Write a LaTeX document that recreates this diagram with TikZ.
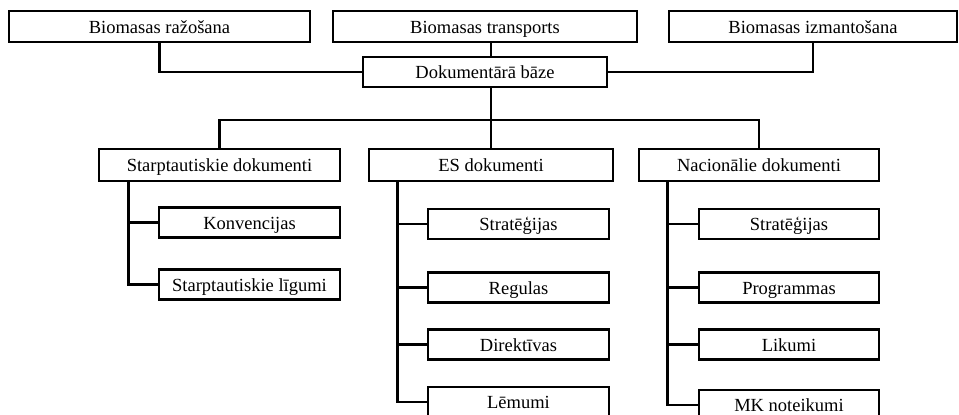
\documentclass[tikz,border=0pt]{standalone}
\usepackage{fontspec}
\setmainfont{Liberation Serif}
\usepackage{tikz}
\usetikzlibrary{calc,positioning}

\begin{document}
\begin{tikzpicture}[x=1pt,y=-1pt,
    box/.style={draw, line width=2.6pt, inner sep=0pt, minimum height=31pt,
        text height=16pt, text depth=3pt, font=\fontsize{18.5}{20}\selectfont},
    link/.style={line width=2.6pt}]
    \useasboundingbox (0,0) rectangle (959,415);

    % Top row
    \node[box, minimum width=301pt] (razo) at (159.5,26.5) {Biomasas ražošana};
    \node[box, minimum width=304pt] (transp) at (485,26.5) {Biomasas transports};
    \node[box, minimum width=288pt] (izm) at (813,26.5) {Biomasas izmantošana};

    % Documentary base
    \node[box, minimum width=244pt, minimum height=30pt] (dok) at (485,72) {Dokumentārā bāze};
    \draw[link] (razo.south) |- (dok.west);
    \draw[link] (izm.south) |- (dok.east);

    % Second level
    \node[box, minimum width=241pt, minimum height=32pt] (starpt) at (219.5,165) {Starptautiskie dokumenti};
    \node[box, minimum width=244pt, minimum height=32pt] (es) at (491,165) {ES dokumenti};
    \node[box, minimum width=240pt, minimum height=32pt] (nac) at (759,165) {Nacionālie dokumenti};
    \coordinate (bus) at (491,120);

    \draw[link] (transp.south -| es.north) -- (dok.north -| es.north);
    \draw[link] (dok.south -| es.north) -- (es.north);
    \draw[link] (starpt.north) -- (starpt.north |- bus) -- (nac.north |- bus) -- (nac.north);

    % Starptautiskie dokumenti
    \node[box, minimum width=181pt, minimum height=30pt] (konv) at (249.5,222.5) {Konvencijas};
    \node[box, minimum width=181pt, minimum height=30pt] (ligumi) at (249.5,284.5) {Starptautiskie līgumi};
    \draw[link] ([xshift=31pt]starpt.south west) |- (konv.west);
    \draw[link] ([xshift=31pt]starpt.south west) |- (ligumi.west);

    % ES dokumenti
    \node[box, minimum width=181pt, minimum height=30pt] (esstrat) at (518.5,224) {Stratēģijas};
    \node[box, minimum width=181pt, minimum height=30pt] (regulas) at (518.5,287.5) {Regulas};
    \node[box, minimum width=181pt, minimum height=30pt] (direkt) at (518.5,344.5) {Direktīvas};
    \node[box, minimum width=181pt, minimum height=30pt] (lemumi) at (518.5,402) {Lēmumi};
    \foreach \c in {esstrat,regulas,direkt,lemumi}
        \draw[link] ([xshift=30pt]es.south west) |- (\c.west);

    % Nacionalie dokumenti
    \node[box, minimum width=180pt, minimum height=30pt] (nacstrat) at (789,224) {Stratēģijas};
    \node[box, minimum width=180pt, minimum height=30pt] (progr) at (789,287.5) {Programmas};
    \node[box, minimum width=180pt, minimum height=30pt] (likumi) at (789,344.5) {Likumi};
    \node[box, minimum width=180pt, minimum height=30pt] (mk) at (789,405) {MK noteikumi};
    \foreach \c in {nacstrat,progr,likumi,mk}
        \draw[link] ([xshift=30pt]nac.south west) |- (\c.west);

\end{tikzpicture}
\end{document}
